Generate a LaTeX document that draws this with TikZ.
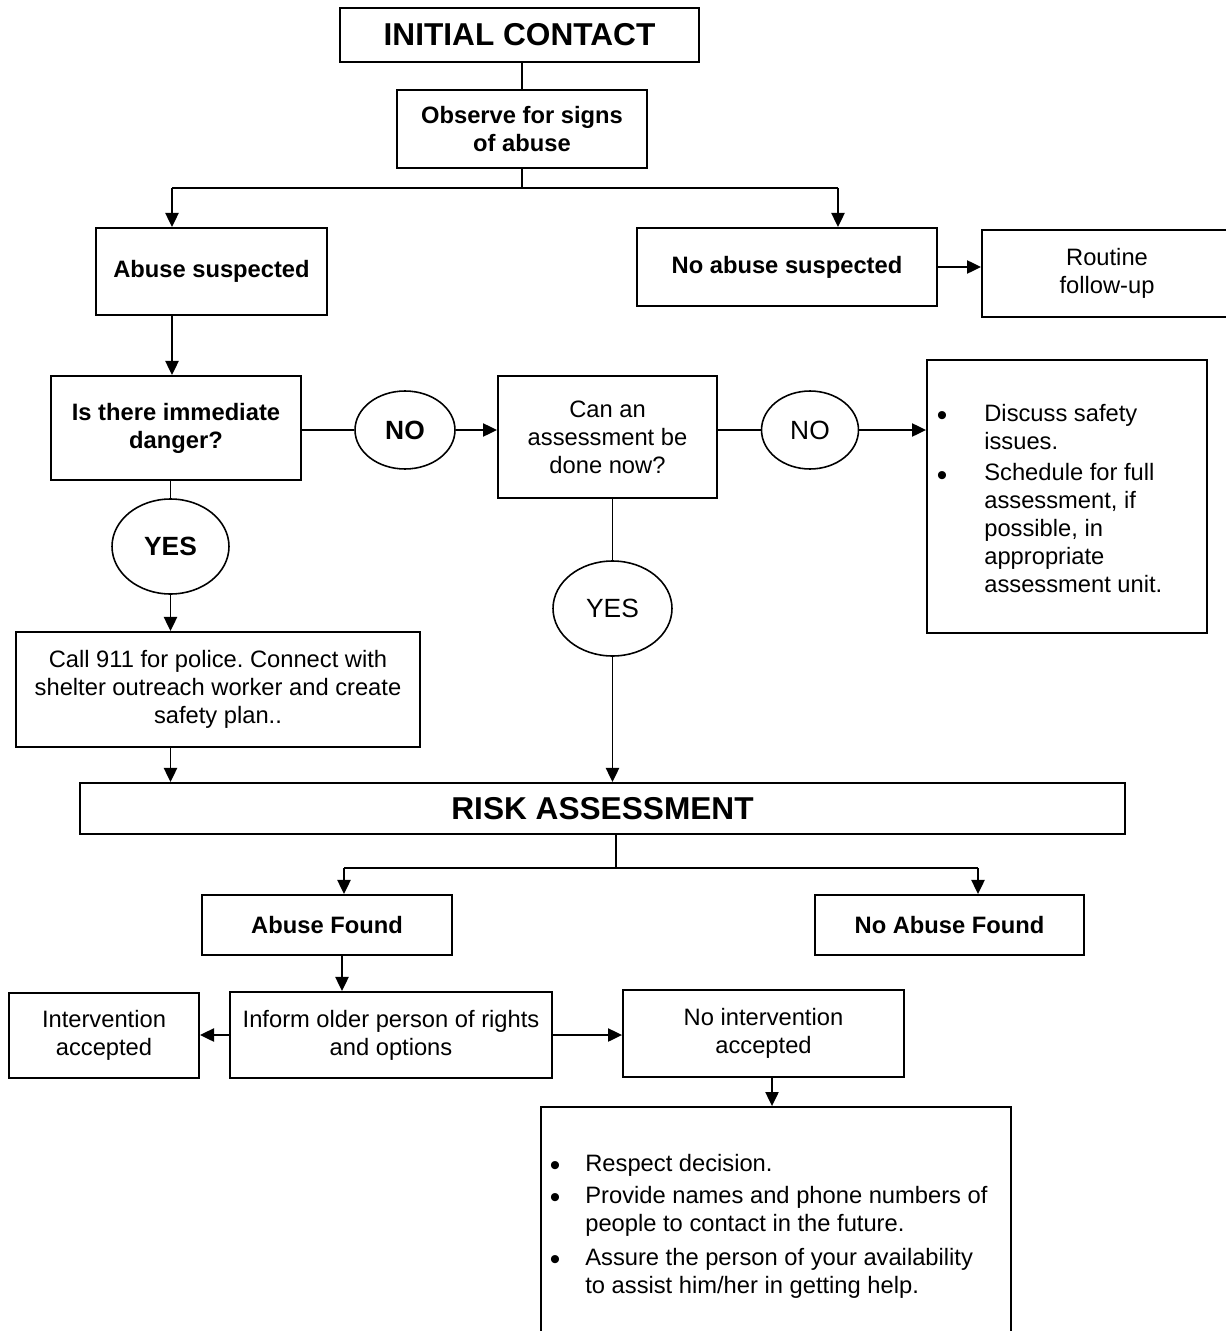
\documentclass[tikz,border=0pt]{standalone}
\usepackage{fontspec}
\setmainfont{Liberation Sans}
\usetikzlibrary{arrows.meta,shapes.geometric}
\newcommand\bodyf{\fontsize{13.5}{15.9}\selectfont}
\newcommand\titlef{\fontsize{18}{22}\selectfont\bfseries}
\newcommand\ellf{\fontsize{15}{18}\selectfont}
\newcommand\bulf{\fontsize{17}{18}\selectfont}
\frenchspacing
\begin{document}
\begin{tikzpicture}[x=0.02cm,y=-0.02cm,
  bx/.style={draw,line width=1.1pt,align=center,inner sep=0pt,font=\bodyf},
  bbx/.style={bx,font=\bodyf\bfseries},
  tbx/.style={bx,font=\titlef},
  ell/.style={draw,ellipse,line width=0.9pt,inner sep=0pt,font=\ellf},
  ln/.style={line width=1pt},
  ar/.style={line width=1pt,-{Triangle[length=8pt,width=7.5pt]}},
  itm/.style={anchor=base west,align=left,inner sep=0pt,font=\bodyf},
  bul/.style={anchor=base,inner sep=0pt,font=\bulf}]
\useasboundingbox (0,0) rectangle (1225,1331);
% boxes
\node[tbx,minimum width=7.18cm,minimum height=1.08cm] (init) at (519.5,35) {INITIAL CONTACT};
\node[bbx,minimum width=5.0cm,minimum height=1.56cm] (obs) at (522,129) {Observe for signs\\of abuse};
\node[bbx,minimum width=4.62cm,minimum height=1.74cm] (abs) at (211.5,271.5) {Abuse suspected};
\node[bbx,minimum width=6.0cm,minimum height=1.56cm] (noabs) at (787,267) {No abuse suspected};
\node[bx,minimum width=5.0cm,minimum height=1.74cm] (routine) at (1107,273.5) {Routine\\follow-up};
\node[bbx,minimum width=5.0cm,minimum height=2.08cm] (danger) at (176,428) {Is there immediate\\danger?};
\node[ell,minimum width=2.0cm,minimum height=1.56cm,font=\ellf\bfseries] (no1) at (405,430) {NO};
\node[bx,minimum width=4.38cm,minimum height=2.44cm] (can) at (607.5,437) {Can an\\assessment be\\done now?};
\node[ell,minimum width=1.94cm,minimum height=1.56cm] (no2) at (810,430) {NO};
\node[bx,minimum width=5.6cm,minimum height=5.46cm] (discuss) at (1067,496.5) {};
\node[bul] (d1b) at (942,425.7) {\textbullet};
\node[itm] (d1) at (984,449.7) {Discuss safety\\issues.};
\node[bul] (d2b) at (942,485.7) {\textbullet};
\node[itm] (d2) at (984,592.5) {Schedule for full\\assessment, if\\possible, in\\appropriate\\assessment unit.};
\node[ell,minimum width=2.34cm,minimum height=1.9cm,font=\ellf\bfseries] (yes1) at (170.5,546.5) {YES};
\node[bx,minimum width=8.08cm,minimum height=2.3cm] (call) at (218,689.5) {Call 911 for police. Connect with\\shelter outreach worker and create\\safety plan..};
\node[ell,minimum width=2.38cm,minimum height=1.9cm] (yes2) at (612.5,608.5) {YES};
\node[tbx,minimum width=20.9cm,minimum height=1.02cm] (risk) at (602.5,808.5) {RISK ASSESSMENT};
\node[bbx,minimum width=5.0cm,minimum height=1.2cm] (af) at (327,925) {Abuse Found};
\node[bbx,minimum width=5.38cm,minimum height=1.2cm] (naf) at (949.5,925) {No Abuse Found};
\node[bx,minimum width=6.44cm,minimum height=1.72cm] (inform) at (391,1035) {Inform older person of rights\\and options};
\node[bx,minimum width=3.8cm,minimum height=1.7cm] (interv) at (104,1035.5) {Intervention\\accepted};
\node[bx,minimum width=5.62cm,minimum height=1.74cm] (noint) at (763.5,1033.5) {No intervention\\accepted};
\node[bx,minimum width=9.4cm,minimum height=4.76cm] (bottom) at (776,1226) {};
\node[bul] (b1b) at (555,1175.7) {\textbullet};
\node[itm] (b1) at (585,1171.7) {Respect decision.};
\node[bul] (b2b) at (555,1207.3) {\textbullet};
\node[itm] (b2) at (585,1231.7) {Provide names and phone numbers of\\people to contact in the future.};
\node[bul] (b3b) at (555,1269) {\textbullet};
\node[itm] (b3) at (585,1293.3) {Assure the person of your availability\\to assist him/her in getting help.};
% junctions
\coordinate (j1) at (522,188);
\coordinate (j1l) at (172,188);
\coordinate (j1r) at (838,188);
\coordinate (j2) at (616,868);
\coordinate (j2l) at (344,868);
\coordinate (j2r) at (978,868);
\coordinate (j3) at (342,955);
\coordinate (j4) at (772,1077);
% connectors
\draw[ln] (obs.north |- init.south) -- (obs.north);
\draw[ln] (obs.south) -- (j1);
\draw[ln] (j1l) -- (j1r);
\draw[ar] (j1l) -- (j1l |- abs.north);
\draw[ar] (j1r) -- (j1r |- noabs.north);
\draw[ar] (noabs.east) -- (noabs.east -| routine.west);
\draw[ar] (abs.south -| j1l) -- (danger.north -| j1l);
\draw[ln] (no1.west -| danger.east) -- (no1.west);
\draw[ar] (no1.east) -- (no1.east -| can.west);
\draw[ln] (no2.west -| can.east) -- (no2.west);
\draw[ar] (no2.east) -- (no2.east -| discuss.west);
\draw[ln] (danger.south -| yes1) -- (yes1.north);
\draw[ar] (yes1.south) -- (yes1.south |- call.north);
\draw[ar] (call.south -| yes1) -- (risk.north -| yes1);
\draw[ln] (can.south -| yes2) -- (yes2.north);
\draw[ar] (yes2.south) -- (yes2.south |- risk.north);
\draw[ln] (risk.south -| j2) -- (j2);
\draw[ln] (j2l) -- (j2r);
\draw[ar] (j2l) -- (j2l |- af.north);
\draw[ar] (j2r) -- (j2r |- naf.north);
\draw[ar] (af.south -| j3) -- (inform.north -| j3);
\draw[ar] (inform.west) -- (inform.west -| interv.east);
\draw[ar] (inform.east) -- (inform.east -| noint.west);
\draw[ar] (noint.south -| j4) -- (bottom.north -| j4);
\end{tikzpicture}
\end{document}
